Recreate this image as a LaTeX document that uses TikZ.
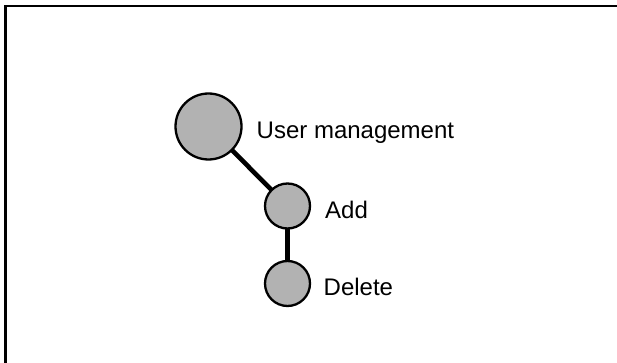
\documentclass[tikz,border=0pt]{standalone}
\usepackage{fontspec}
\setmainfont{Liberation Sans}
\usetikzlibrary{backgrounds}
\begin{document}
\begin{tikzpicture}[x=1pt,y=-1pt,
  dot/.style={circle,draw=black,line width=2.3pt,fill=black!30,inner sep=0pt},
  lbl/.style={anchor=base west,inner sep=0pt,font=\fontsize{24}{28}\selectfont},
  link/.style={line width=4.6pt}]
\useasboundingbox (0,0) rectangle (617,363);
\clip (0,0) rectangle (617,363);
\draw[line width=2.3pt] (5.5,6) rectangle (640,390);
\node[dot,minimum size=66pt] (um) at (208.5,126.5) {};
\node[dot,minimum size=45pt] (add) at (287.5,206) {};
\node[dot,minimum size=45pt] (del) at (287.5,283.5) {};
\begin{scope}[on background layer]
\draw[link] (um.center) -- (add.center);
\draw[link] (add.center) -- (del.center);
\end{scope}
\node[lbl] (tum) at (256.5,138.3) {User management};
\node[lbl] (tadd) at (325,218.5) {Add};
\node[lbl] (tdel) at (323.5,295.7) {Delete};
\end{tikzpicture}
\end{document}
